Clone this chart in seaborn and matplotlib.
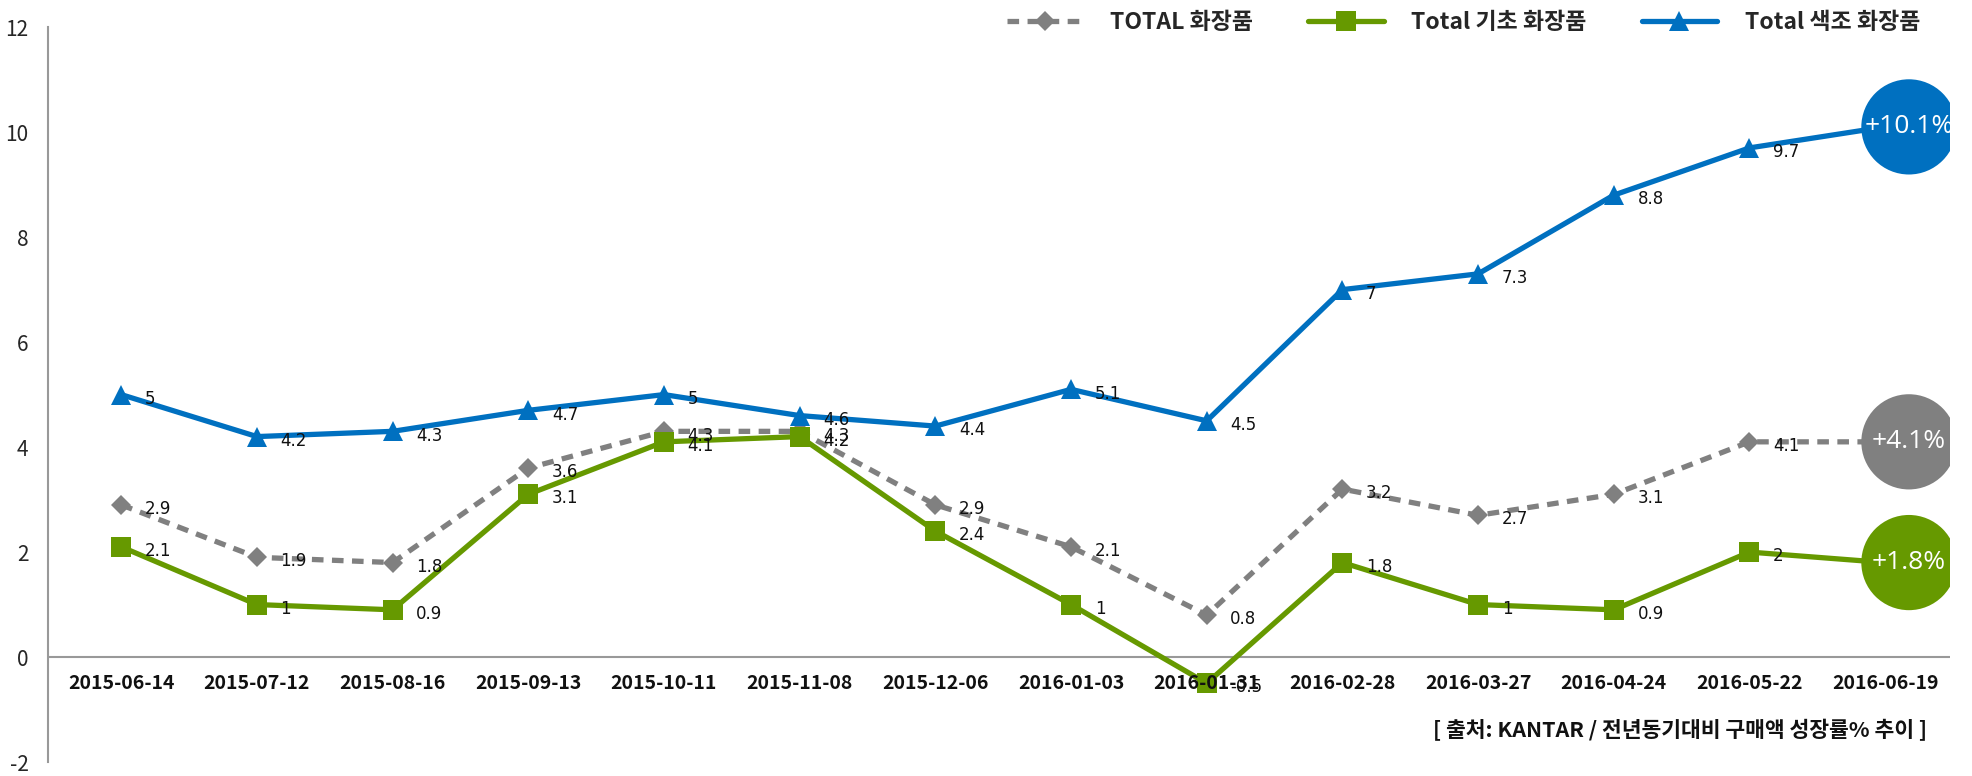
import numpy as np
import pandas as pd
import matplotlib
matplotlib.use('Agg')
import matplotlib.pyplot as plt
import seaborn as sns

# 데이터
dates = ['2015-06-14', '2015-07-12', '2015-08-16', '2015-09-13', '2015-10-11',
         '2015-11-08', '2015-12-06', '2016-01-03', '2016-01-31', '2016-02-28',
         '2016-03-27', '2016-04-24', '2016-05-22', '2016-06-19']
total = [2.9, 1.9, 1.8, 3.6, 4.3, 4.3, 2.9, 2.1, 0.8, 3.2, 2.7, 3.1, 4.1, 4.1]
basic = [2.1, 1, 0.9, 3.1, 4.1, 4.2, 2.4, 1, -0.5, 1.8, 1, 0.9, 2, 1.8]
color_cos = [5, 4.2, 4.3, 4.7, 5, 4.6, 4.4, 5.1, 4.5, 7, 7.3, 8.8, 9.7, 10.1]
series_names = ['TOTAL 화장품', 'Total 기초 화장품', 'Total 색조 화장품']
bubble_text = ['+4.1%', '+1.8%', '+10.1%']
yticks = [-2, 0, 2, 4, 6, 8, 10, 12]
source = '[ 출처: KANTAR / 전년동기대비 구매액 성장률% 추이 ]'

sns.set_style('white')
plt.rcParams['font.family'] = ['Noto Sans CJK KR', 'DejaVu Sans']

df = pd.DataFrame({'x': np.arange(len(dates)), 'total': total, 'basic': basic, 'color': color_cos})

fig = plt.figure(figsize=(19.72, 7.76), dpi=100)
ax = fig.add_axes([0.0243, 0.018, 0.9647, 0.947])

styles = [
    ('total', '#808080', 'D', (0, (2.2, 1.6)), 10),
    ('basic', '#669900', 's', '-', 14),
    ('color', '#0070C0', '^', '-', 14),
]
n = len(dates)
for (col, c, m, ls, ms), name, btxt in zip(styles, series_names, bubble_text):
    sns.lineplot(data=df, x='x', y=col, ax=ax, color=c, lw=3.8, linestyle=ls,
                 marker=m, markersize=ms, markeredgewidth=0, markevery=list(range(n - 1)),
                 label=name)
    for i in range(n - 1):
        v = df[col].iloc[i]
        ax.annotate(f'{v:g}', (i, v), xytext=(17, -3), textcoords='offset points',
                    ha='left', va='center', fontsize=12, color='#111111',
                    family=['DejaVu Sans'])
    last = df[col].iloc[-1]
    ax.scatter([n - 1 + 0.175], [last], s=4700, color=c, zorder=5, edgecolors='none')
    ax.text(n - 1 + 0.175, last, btxt, ha='center', va='center', color='white',
            fontsize=19, zorder=6, family=['Open Sans', 'DejaVu Sans'])

ax.set_xlim(-0.54, n - 1 + 0.48)
ax.set_ylim(-2, 12)
ax.set_yticks(yticks)
ax.set_yticklabels([str(t) for t in yticks], fontsize=15)
ax.tick_params(axis='y', length=0, pad=14)
ax.set_xticks([])
ax.set_xlabel('')
ax.set_ylabel('')
for s in ['top', 'right', 'bottom']:
    ax.spines[s].set_visible(False)
ax.spines['left'].set_color('#999999')
ax.spines['left'].set_linewidth(1.5)
ax.axhline(0, color='#999999', lw=1.5, zorder=1)

for i, d in enumerate(dates):
    ax.text(i, -0.5, d, ha='center', va='center', fontsize=14, fontweight='bold',
            color='#111111', zorder=4)

ax.text(0.988, 0.044, source, transform=ax.transAxes, ha='right', va='center',
        fontsize=15.5, fontweight='bold', color='#111111')

leg = ax.legend(loc='upper right', bbox_to_anchor=(0.995, 1.05), ncol=3, frameon=False,
                fontsize=16.5, handlelength=3.3, handletextpad=1.2, columnspacing=2.4)
for t in leg.get_texts():
    t.set_fontweight('bold')

fig.savefig('out.png', dpi=100)
